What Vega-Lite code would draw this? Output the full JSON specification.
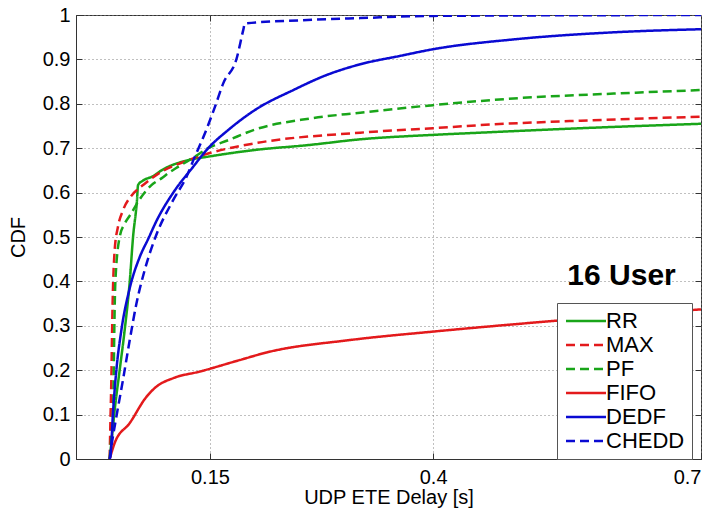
{
  "$schema": "https://vega.github.io/schema/vega-lite/v6.json",
  "width": 625,
  "height": 444,
  "autosize": {"type": "none"},
  "padding": {"left": 76, "top": 15, "right": 16, "bottom": 49},
  "background": "white",
  "config": {
    "font": "Liberation Sans",
    "view": {"stroke": "#333333", "strokeWidth": 1},
    "legend": {
      "orient": "none",
      "legendX": 481,
      "legendY": 288,
      "padding": 7,
      "strokeColor": "#555555",
      "fillColor": "white",
      "labelFontSize": 22,
      "labelColor": "black",
      "labelFont": "Liberation Sans",
      "rowPadding": 2,
      "symbolStrokeWidth": 2.5,
      "symbolType": "M-1,0H3.444",
      "symbolSize": 324,
      "labelOffset": 20,
      "title": null
    }
  },
  "layer": [
    {
      "data": {
        "values": [
          {"scheme": "RR", "delay": 0.0377, "cdf": 0},
          {"scheme": "RR", "delay": 0.0396, "cdf": 0.036},
          {"scheme": "RR", "delay": 0.0433, "cdf": 0.11},
          {"scheme": "RR", "delay": 0.0489, "cdf": 0.2},
          {"scheme": "RR", "delay": 0.0545, "cdf": 0.29},
          {"scheme": "RR", "delay": 0.0602, "cdf": 0.4},
          {"scheme": "RR", "delay": 0.0639, "cdf": 0.5},
          {"scheme": "RR", "delay": 0.0683, "cdf": 0.583},
          {"scheme": "RR", "delay": 0.0695, "cdf": 0.617},
          {"scheme": "RR", "delay": 0.075, "cdf": 0.627},
          {"scheme": "RR", "delay": 0.0863, "cdf": 0.637},
          {"scheme": "RR", "delay": 0.0957, "cdf": 0.65},
          {"scheme": "RR", "delay": 0.1253, "cdf": 0.673},
          {"scheme": "RR", "delay": 0.148, "cdf": 0.681},
          {"scheme": "RR", "delay": 0.2004, "cdf": 0.696},
          {"scheme": "RR", "delay": 0.26, "cdf": 0.707},
          {"scheme": "RR", "delay": 0.3183, "cdf": 0.72},
          {"scheme": "RR", "delay": 0.4, "cdf": 0.73},
          {"scheme": "RR", "delay": 0.453, "cdf": 0.735},
          {"scheme": "RR", "delay": 0.5652, "cdf": 0.745},
          {"scheme": "RR", "delay": 0.7, "cdf": 0.755},

          {"scheme": "MAX", "delay": 0.0377, "cdf": 0},
          {"scheme": "MAX", "delay": 0.0385, "cdf": 0.08},
          {"scheme": "MAX", "delay": 0.0396, "cdf": 0.18},
          {"scheme": "MAX", "delay": 0.0407, "cdf": 0.32},
          {"scheme": "MAX", "delay": 0.0433, "cdf": 0.47},
          {"scheme": "MAX", "delay": 0.047, "cdf": 0.523},
          {"scheme": "MAX", "delay": 0.0526, "cdf": 0.56},
          {"scheme": "MAX", "delay": 0.0621, "cdf": 0.593},
          {"scheme": "MAX", "delay": 0.0695, "cdf": 0.608},
          {"scheme": "MAX", "delay": 0.0751, "cdf": 0.617},
          {"scheme": "MAX", "delay": 0.0957, "cdf": 0.647},
          {"scheme": "MAX", "delay": 0.1219, "cdf": 0.67},
          {"scheme": "MAX", "delay": 0.148, "cdf": 0.688},
          {"scheme": "MAX", "delay": 0.2004, "cdf": 0.711},
          {"scheme": "MAX", "delay": 0.3183, "cdf": 0.735},
          {"scheme": "MAX", "delay": 0.4, "cdf": 0.745},
          {"scheme": "MAX", "delay": 0.453, "cdf": 0.752},
          {"scheme": "MAX", "delay": 0.5652, "cdf": 0.762},
          {"scheme": "MAX", "delay": 0.7, "cdf": 0.771},

          {"scheme": "PF", "delay": 0.0377, "cdf": 0},
          {"scheme": "PF", "delay": 0.0396, "cdf": 0.05},
          {"scheme": "PF", "delay": 0.0414, "cdf": 0.1},
          {"scheme": "PF", "delay": 0.0423, "cdf": 0.2},
          {"scheme": "PF", "delay": 0.0429, "cdf": 0.29},
          {"scheme": "PF", "delay": 0.0441, "cdf": 0.4},
          {"scheme": "PF", "delay": 0.0489, "cdf": 0.5},
          {"scheme": "PF", "delay": 0.0545, "cdf": 0.53},
          {"scheme": "PF", "delay": 0.0602, "cdf": 0.548},
          {"scheme": "PF", "delay": 0.0714, "cdf": 0.585},
          {"scheme": "PF", "delay": 0.0845, "cdf": 0.617},
          {"scheme": "PF", "delay": 0.0957, "cdf": 0.632},
          {"scheme": "PF", "delay": 0.105, "cdf": 0.646},
          {"scheme": "PF", "delay": 0.1144, "cdf": 0.658},
          {"scheme": "PF", "delay": 0.1331, "cdf": 0.681},
          {"scheme": "PF", "delay": 0.148, "cdf": 0.7},
          {"scheme": "PF", "delay": 0.1705, "cdf": 0.718},
          {"scheme": "PF", "delay": 0.2004, "cdf": 0.742},
          {"scheme": "PF", "delay": 0.2622, "cdf": 0.767},
          {"scheme": "PF", "delay": 0.3183, "cdf": 0.78},
          {"scheme": "PF", "delay": 0.4, "cdf": 0.797},
          {"scheme": "PF", "delay": 0.49, "cdf": 0.812},
          {"scheme": "PF", "delay": 0.6023, "cdf": 0.823},
          {"scheme": "PF", "delay": 0.7, "cdf": 0.831},

          {"scheme": "FIFO", "delay": 0.0377, "cdf": 0},
          {"scheme": "FIFO", "delay": 0.0433, "cdf": 0.036},
          {"scheme": "FIFO", "delay": 0.0602, "cdf": 0.081},
          {"scheme": "FIFO", "delay": 0.0789, "cdf": 0.14},
          {"scheme": "FIFO", "delay": 0.0901, "cdf": 0.163},
          {"scheme": "FIFO", "delay": 0.1088, "cdf": 0.182},
          {"scheme": "FIFO", "delay": 0.1387, "cdf": 0.197},
          {"scheme": "FIFO", "delay": 0.1836, "cdf": 0.223},
          {"scheme": "FIFO", "delay": 0.2136, "cdf": 0.24},
          {"scheme": "FIFO", "delay": 0.3071, "cdf": 0.268},
          {"scheme": "FIFO", "delay": 0.4002, "cdf": 0.287},
          {"scheme": "FIFO", "delay": 0.5349, "cdf": 0.311},
          {"scheme": "FIFO", "delay": 0.62, "cdf": 0.325},
          {"scheme": "FIFO", "delay": 0.7, "cdf": 0.337},

          {"scheme": "DEDF", "delay": 0.0377, "cdf": 0},
          {"scheme": "DEDF", "delay": 0.0388, "cdf": 0.01},
          {"scheme": "DEDF", "delay": 0.0414, "cdf": 0.103},
          {"scheme": "DEDF", "delay": 0.0452, "cdf": 0.2},
          {"scheme": "DEDF", "delay": 0.0508, "cdf": 0.29},
          {"scheme": "DEDF", "delay": 0.0602, "cdf": 0.385},
          {"scheme": "DEDF", "delay": 0.0714, "cdf": 0.455},
          {"scheme": "DEDF", "delay": 0.0807, "cdf": 0.495},
          {"scheme": "DEDF", "delay": 0.0901, "cdf": 0.536},
          {"scheme": "DEDF", "delay": 0.111, "cdf": 0.606},
          {"scheme": "DEDF", "delay": 0.13, "cdf": 0.655},
          {"scheme": "DEDF", "delay": 0.148, "cdf": 0.7},
          {"scheme": "DEDF", "delay": 0.1705, "cdf": 0.741},
          {"scheme": "DEDF", "delay": 0.2004, "cdf": 0.786},
          {"scheme": "DEDF", "delay": 0.2434, "cdf": 0.831},
          {"scheme": "DEDF", "delay": 0.2809, "cdf": 0.865},
          {"scheme": "DEDF", "delay": 0.3183, "cdf": 0.889},
          {"scheme": "DEDF", "delay": 0.3632, "cdf": 0.908},
          {"scheme": "DEDF", "delay": 0.4002, "cdf": 0.923},
          {"scheme": "DEDF", "delay": 0.49, "cdf": 0.945},
          {"scheme": "DEDF", "delay": 0.6023, "cdf": 0.961},
          {"scheme": "DEDF", "delay": 0.7, "cdf": 0.968},

          {"scheme": "CHEDD", "delay": 0.0377, "cdf": 0},
          {"scheme": "CHEDD", "delay": 0.0396, "cdf": 0.028},
          {"scheme": "CHEDD", "delay": 0.0452, "cdf": 0.095},
          {"scheme": "CHEDD", "delay": 0.0526, "cdf": 0.178},
          {"scheme": "CHEDD", "delay": 0.0602, "cdf": 0.268},
          {"scheme": "CHEDD", "delay": 0.0677, "cdf": 0.35},
          {"scheme": "CHEDD", "delay": 0.077, "cdf": 0.426},
          {"scheme": "CHEDD", "delay": 0.09, "cdf": 0.505},
          {"scheme": "CHEDD", "delay": 0.1088, "cdf": 0.583},
          {"scheme": "CHEDD", "delay": 0.1238, "cdf": 0.636},
          {"scheme": "CHEDD", "delay": 0.1331, "cdf": 0.681},
          {"scheme": "CHEDD", "delay": 0.1443, "cdf": 0.733},
          {"scheme": "CHEDD", "delay": 0.1556, "cdf": 0.793},
          {"scheme": "CHEDD", "delay": 0.1649, "cdf": 0.846},
          {"scheme": "CHEDD", "delay": 0.1799, "cdf": 0.902},
          {"scheme": "CHEDD", "delay": 0.1873, "cdf": 0.966},
          {"scheme": "CHEDD", "delay": 0.1892, "cdf": 0.981},
          {"scheme": "CHEDD", "delay": 0.251, "cdf": 0.988},
          {"scheme": "CHEDD", "delay": 0.3183, "cdf": 0.993},
          {"scheme": "CHEDD", "delay": 0.4002, "cdf": 0.998},
          {"scheme": "CHEDD", "delay": 0.7, "cdf": 1.0}
        ]
      },
      "mark": {"type": "line", "strokeWidth": 2.5, "clip": true, "interpolate": "monotone"},
      "encoding": {
        "x": {
          "field": "delay",
          "type": "quantitative",
          "scale": {"domain": [0, 0.7], "nice": false, "zero": false},
          "axis": {
            "orient": "bottom",
            "values": [0.15, 0.4, 0.7],
            "format": ".2~g",
            "grid": true,
            "gridDash": [1, 3],
            "gridColor": "#808080",
            "gridWidth": 1,
            "ticks": true,
            "tickSize": -6,
            "tickColor": "#333333",
            "domainColor": "#333333",
            "labelFontSize": 20,
            "labelColor": "black",
            "labelPadding": 14,
            "labelFlush": true,
            "labelOverlap": false,
            "title": "UDP ETE Delay [s]",
            "titleFontSize": 20,
            "titleFontWeight": "normal",
            "titleColor": "black",
            "titlePadding": 0
          }
        },
        "y": {
          "field": "cdf",
          "type": "quantitative",
          "scale": {"domain": [0, 1], "nice": false},
          "axis": {
            "orient": "left",
            "values": [0, 0.1, 0.2, 0.3, 0.4, 0.5, 0.6, 0.7, 0.8, 0.9, 1],
            "format": ".2~g",
            "grid": true,
            "gridDash": [1, 3],
            "gridColor": "#808080",
            "gridWidth": 1,
            "ticks": true,
            "tickSize": -6,
            "tickColor": "#333333",
            "domainColor": "#333333",
            "labelFontSize": 20,
            "labelColor": "black",
            "labelPadding": 12,
            "labelFlush": false,
            "labelOverlap": false,
            "title": "CDF",
            "titleFontSize": 20,
            "titleFontWeight": "normal",
            "titleColor": "black",
            "titlePadding": 14
          }
        },
        "color": {
          "field": "scheme",
          "type": "nominal",
          "scale": {
            "domain": ["RR", "MAX", "PF", "FIFO", "DEDF", "CHEDD"],
            "range": ["#19a519", "#e31a1c", "#19a519", "#e31a1c", "#0a0ad2", "#0a0ad2"]
          },
          "legend": {
            "orient": "none",
            "legendX": 481,
            "legendY": 288,
            "title": null
          }
        },
        "strokeDash": {
          "field": "scheme",
          "type": "nominal",
          "scale": {
            "domain": ["RR", "MAX", "PF", "FIFO", "DEDF", "CHEDD"],
            "range": [[1, 0], [9, 5], [9, 5], [1, 0], [1, 0], [9, 5]]
          },
          "legend": {
            "orient": "none",
            "legendX": 481,
            "legendY": 288,
            "title": null
          }
        }
      }
    },
    {
      "data": {"values": [{"label": "16 User", "delay": 0.611, "cdf": 0.392}]},
      "mark": {"type": "text", "fontSize": 30, "fontWeight": "bold", "align": "center", "baseline": "alphabetic", "color": "black", "font": "Liberation Sans"},
      "encoding": {
        "x": {
          "field": "delay",
          "type": "quantitative",
          "axis": {
            "orient": "top",
            "values": [0.15, 0.4],
            "labels": false,
            "grid": false,
            "domain": false,
            "ticks": true,
            "tickSize": -6,
            "tickColor": "#333333",
            "title": null
          }
        },
        "y": {
          "field": "cdf",
          "type": "quantitative",
          "axis": {
            "orient": "right",
            "values": [0.1, 0.2, 0.3, 0.4, 0.5, 0.6, 0.7, 0.8, 0.9],
            "labels": false,
            "grid": false,
            "domain": false,
            "ticks": true,
            "tickSize": -6,
            "tickColor": "#333333",
            "title": null
          }
        },
        "text": {"field": "label"}
      }
    }
  ],
  "resolve": {"axis": {"x": "independent", "y": "independent"}}
}
